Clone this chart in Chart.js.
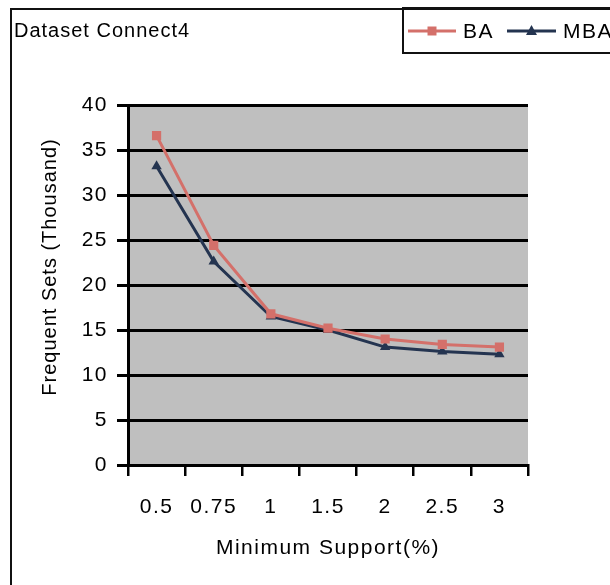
<!DOCTYPE html>
<html>
<head>
<meta charset="utf-8">
<script src="https://cdn.jsdelivr.net/npm/chart.js@4.4.1/dist/chart.umd.min.js"></script>
<style>
html,body{margin:0;padding:0;background:#ffffff;}
#wrap{width:610px;height:585px;position:relative;}
</style>
</head>
<body>
<div id="wrap"><canvas id="c" width="610" height="585"></canvas></div>
<script>
// ---- data ----
const categories = ['0.5', '0.75', '1', '1.5', '2', '2.5', '3'];
const baValues = [36.6, 24.4, 16.8, 15.2, 14.0, 13.4, 13.1];
const mbaValues = [33.2, 22.6, 16.5, 15.0, 13.1, 12.6, 12.3];
const seriesNames = ['BA', 'MBA'];
const yMin = 0;
const yMax = 40;
const yStep = 5;
const chartTitle = 'Dataset Connect4';
const xTitle = 'Minimum Support(%)';
const yTitle = 'Frequent Sets (Thousand)';

const FONT = "'Liberation Sans', Arial, sans-serif";
const BA_COLOR = '#d4706a';
const MBA_COLOR = '#243450';
const PLOT_BG = '#bfbfbf';

const spacingPlugin = {
  id: 'spacing',
  beforeDraw(chart) {
    const ctx = chart.ctx;
    ctx.save();
    ctx.fillStyle = '#ffffff';
    ctx.fillRect(0, 0, chart.width, chart.height);
    const a = chart.chartArea;
    ctx.fillStyle = PLOT_BG;
    ctx.fillRect(a.left, a.top, a.right - a.left, a.bottom - a.top);
    ctx.restore();
    if ('letterSpacing' in ctx) ctx.letterSpacing = '1.5px';
  }
};

const framePlugin = {
  id: 'frame',
  afterDraw(chart) {
    const ctx = chart.ctx;
    ctx.save();
    // outer frame
    ctx.strokeStyle = '#111';
    ctx.lineWidth = 2;
    ctx.beginPath();
    ctx.moveTo(11, 590);
    ctx.lineTo(11, 9);
    ctx.lineTo(615, 9);
    ctx.stroke();
    // title
    if ('letterSpacing' in ctx) ctx.letterSpacing = '1px';
    ctx.fillStyle = '#000';
    ctx.font = '20px ' + FONT;
    ctx.textBaseline = 'middle';
    ctx.textAlign = 'left';
    ctx.fillText(chartTitle, 14, 31);
    // y-axis title (rotated)
    ctx.save();
    ctx.translate(50, 267);
    ctx.rotate(-Math.PI / 2);
    ctx.textAlign = 'center';
    ctx.textBaseline = 'middle';
    ctx.font = '20px ' + FONT;
    ctx.fillText(yTitle, 0, 0);
    ctx.restore();
    // legend box
    ctx.strokeStyle = '#111';
    ctx.lineWidth = 2;
    ctx.strokeRect(403, 8, 220, 45);
    // legend entries
    if ('letterSpacing' in ctx) ctx.letterSpacing = '1.5px';
    const entries = [
      {name: seriesNames[0], color: BA_COLOR, style: 'rect', x0: 408, x1: 456, tx: 463},
      {name: seriesNames[1], color: MBA_COLOR, style: 'triangle', x0: 507, x1: 556, tx: 563}
    ];
    const ly = 31;
    entries.forEach(e => {
      ctx.strokeStyle = e.color;
      ctx.lineWidth = 3;
      ctx.beginPath();
      ctx.moveTo(e.x0, ly);
      ctx.lineTo(e.x1, ly);
      ctx.stroke();
      ctx.fillStyle = e.color;
      ctx.beginPath();
      const cx = (e.x0 + e.x1) / 2;
      if (e.style === 'rect') {
        ctx.rect(cx - 4.5, ly - 4.5, 9, 9);
      } else {
        ctx.moveTo(cx, ly - 6);
        ctx.lineTo(cx + 5.5, ly + 4);
        ctx.lineTo(cx - 5.5, ly + 4);
        ctx.closePath();
      }
      ctx.fill();
      ctx.fillStyle = '#000';
      ctx.font = '21px ' + FONT;
      ctx.fillText(e.name, e.tx, ly + 1);
    });
    ctx.restore();
  }
};

new Chart(document.getElementById('c'), {
  type: 'line',
  data: {
    labels: categories,
    datasets: [
      {
        label: seriesNames[0],
        data: baValues,
        borderColor: BA_COLOR,
        backgroundColor: BA_COLOR,
        borderWidth: 3,
        pointStyle: 'rect',
        pointRadius: 6.5,
        pointBorderWidth: 0,
        tension: 0
      },
      {
        label: seriesNames[1],
        data: mbaValues,
        borderColor: MBA_COLOR,
        backgroundColor: MBA_COLOR,
        borderWidth: 3,
        pointStyle: 'triangle',
        pointRadius: 6,
        pointBorderWidth: 0,
        tension: 0
      }
    ]
  },
  options: {
    responsive: false,
    animation: false,
    devicePixelRatio: 1,
    layout: {padding: {left: 11, top: 105, right: 82, bottom: 0}},
    plugins: {
      legend: {display: false},
      title: {display: false},
      tooltip: {enabled: false}
    },
    scales: {
      x: {
        type: 'category',
        offset: true,
        grid: {
          offset: true,
          drawOnChartArea: false,
          drawTicks: true,
          tickLength: 11,
          color: '#000',
          lineWidth: 2.5
        },
        border: {display: true, color: '#000', width: 3},
        ticks: {
          color: '#000',
          font: {family: FONT, size: 21},
          padding: 19,
          maxRotation: 0,
          autoSkip: false
        },
        title: {
          display: true,
          text: xTitle,
          color: '#000',
          font: {family: FONT, size: 21},
          padding: {top: 0, bottom: 24}
        },
        afterFit(scale) { scale.height = 120; }
      },
      y: {
        min: yMin,
        max: yMax,
        ticks: {
          stepSize: yStep,
          color: '#000',
          font: {family: FONT, size: 21},
          padding: 9
        },
        grid: {
          color: '#000',
          lineWidth: 3,
          tickLength: 11,
          drawTicks: true
        },
        border: {display: true, color: '#000', width: 3},
        title: {display: false},
        afterFit(scale) { scale.width = 117; }
      }
    }
  },
  plugins: [spacingPlugin, framePlugin]
});
</script>
</body>
</html>
